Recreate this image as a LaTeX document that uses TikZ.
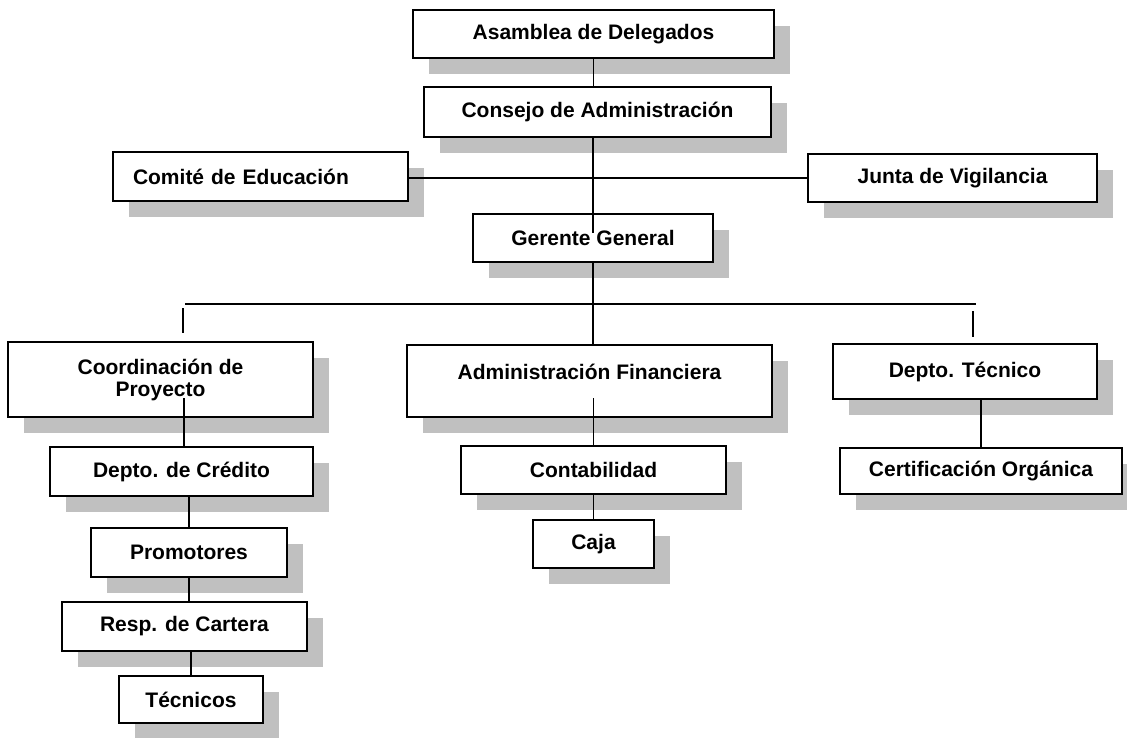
\documentclass[tikz,border=0pt]{standalone}
\usepackage{fontspec}
\setmainfont{Liberation Sans}
\usetikzlibrary{shadows,calc}
\definecolor{shadowgray}{RGB}{192,192,192}
\begin{document}
\begin{tikzpicture}[x=1pt,y=-1pt,
  box/.style={draw=black, line width=2pt, fill=white, inner sep=0pt, align=center,
    font=\fontsize{21}{22}\selectfont\bfseries,
    drop shadow={shadow xshift=16pt, shadow yshift=-16pt, fill=shadowgray, opacity=1}},
  sz/.style 2 args={minimum width=#1pt, minimum height=#2pt},
  link/.style={line width=1.6pt}]
\useasboundingbox (0,0) rectangle (1127,738);

\node[box, sz={361}{48}] (asam) at (593.5,34) {Asamblea de Delegados};
\node[box, sz={347}{50}] (consejo) at (597.5,112) {Consejo de Administración};
\node[box, sz={295}{49}, text width=255pt, align=left] (comite) at (260.5,176.5) {Comité de Educación};
\node[box, sz={289}{48}] (junta) at (952.5,178) {Junta de Vigilancia};
\node[box, sz={240}{48}] (gerente) at (593,238) {Gerente General};

\node[box, sz={305}{75}] (coord) at (160.5,379.5) {Coordinación de\\Proyecto};
\node[box, sz={365}{72}, text depth=18pt] (adminfin) at (589.5,381) {Administración Financiera};
\node[box, sz={264}{55}] (tecnico) at (965,371.5) {Depto. Técnico};

\node[box, sz={263}{49}] (credito) at (181.5,471.5) {Depto. de Crédito};
\node[box, sz={265}{48}] (contab) at (593.5,470) {Contabilidad};
\node[box, sz={282}{46}] (certif) at (981,471) {Certificación Orgánica};

\node[box, sz={196}{49}] (promo) at (189,552.5) {Promotores};
\node[box, sz={121}{48}] (caja) at (593.5,544) {Caja};
\node[box, sz={245}{49}] (cartera) at (184.5,626.5) {Resp. de Cartera};
\node[box, sz={144}{47}] (tecnicos) at (191,699.5) {Técnicos};

\coordinate (gin) at (593,233);
\coordinate (busL) at (185,304);
\coordinate (busR) at (976,304);
\coordinate (tickLa) at (183,308);
\coordinate (tickLb) at (183,333);
\coordinate (tickRa) at (973,311);
\coordinate (tickRb) at (973,337);
\coordinate (cp) at (184,398);
\coordinate (af) at (593.5,398);

\draw[link] (asam.south) -- (asam.south |- consejo.north);
\draw[link] (gin |- consejo.south) -- (gin);
\draw[link] (comite.east |- junta.west) -- (junta.west);
\draw[link] (gerente.south) -- (gerente.south |- adminfin.north);
\draw[link] (busL) -- (busR);
\draw[link] (tickLa) -- (tickLb);
\draw[link] (tickRa) -- (tickRb);
\draw[link] (cp) -- (cp |- credito.north);
\draw[link] (credito.south -| promo.north) -- (promo.north);
\draw[link] (promo.south) -- (promo.south |- cartera.north);
\draw[link] (tecnicos.north |- cartera.south) -- (tecnicos.north);
\draw[link] (af) -- (af |- contab.north);
\draw[link] (contab.south) -- (contab.south |- caja.north);
\draw[link] (certif.north |- tecnico.south) -- (certif.north);
\end{tikzpicture}
\end{document}
